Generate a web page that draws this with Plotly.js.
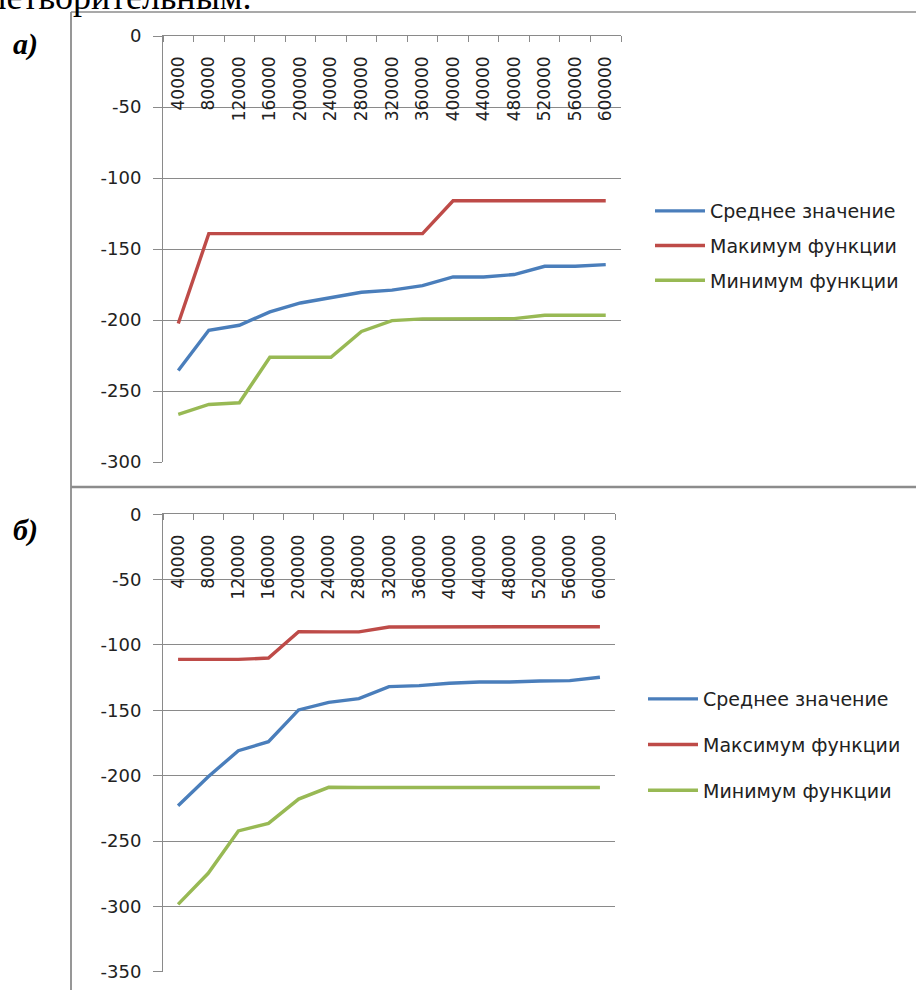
<!DOCTYPE html>
<html>
<head>
<meta charset="utf-8">
<script src="https://cdn.plot.ly/plotly-3.0.1.min.js"></script>
<style>
html, body { margin: 0; padding: 0; background: #ffffff; }
#chart { width: 916px; height: 990px; }
</style>
</head>
<body>
<div id="chart"></div>
<script>
// ---- data ----
const categories = [40000, 80000, 120000, 160000, 200000, 240000, 280000, 320000,
                    360000, 400000, 440000, 480000, 520000, 560000, 600000];
const categoryLabels = ['40000', '80000', '120000', '160000', '200000', '240000', '280000', '320000',
                        '360000', '400000', '440000', '480000', '520000', '560000', '600000'];

const namesA = ['Среднее значение', 'Макимум функции', 'Минимум функции'];
const namesB = ['Среднее значение', 'Максимум функции', 'Минимум функции'];

const meanA = [-235.6, -207.2, -203.7, -194.3, -188.0, -184.0, -180.5, -179.0,
               -175.8, -169.7, -169.7, -168.0, -162.2, -162.2, -161.0];
const maxA  = [-202.5, -139.2, -139.2, -139.2, -139.2, -139.2, -139.2, -139.2,
               -139.2, -116.0, -116.0, -116.0, -116.0, -116.0, -116.0];
const minA  = [-266.5, -259.5, -258.3, -226.2, -226.2, -226.2, -208.1, -200.4,
               -199.2, -199.0, -199.0, -199.0, -196.7, -196.7, -196.7];

const meanB = [-223.0, -200.8, -180.9, -174.0, -149.7, -143.9, -141.1, -131.9,
               -131.1, -129.3, -128.3, -128.3, -127.6, -127.3, -124.7];
const maxB  = [-111.0, -111.0, -111.0, -110.0, -89.8, -90.0, -90.0, -86.2,
               -86.0, -86.0, -86.0, -86.0, -86.0, -86.0, -86.0];
const minB  = [-298.5, -274.7, -242.3, -236.5, -217.9, -208.9, -209.0, -209.0,
               -209.0, -209.0, -209.0, -209.0, -209.0, -209.0, -209.0];

const yTicksA = [0, -50, -100, -150, -200, -250, -300];
const yTickTextA = ['0', '-50', '-100', '-150', '-200', '-250', '-300'];
const yTicksB = [0, -50, -100, -150, -200, -250, -300, -350];
const yTickTextB = ['0', '-50', '-100', '-150', '-200', '-250', '-300', '-350'];

const panelLabels = ['а)', 'б)'];
const clippedText = 'удовлетворительным.';

// ---- styles ----
const colors = ['#4A7EBB', '#BE4B48', '#98B954'];
const W = 916, H = 990;
const px = v => v / W;
const py = v => 1 - v / H;
const gridColor = '#8a8a8a';
const textColor = '#222222';

function mkTraces(seriesList, names, xa, ya, legendId, grpPrefix) {
  return seriesList.map((s, i) => ({
    type: 'scatter', mode: 'lines',
    x: categories, y: s, name: names[i],
    xaxis: xa, yaxis: ya,
    legend: legendId, legendgroup: grpPrefix + i,
    line: { color: colors[i], width: 3.4 },
    hoverinfo: 'skip'
  }));
}
// invisible carrier so that the label-only overlay axes are drawn
function carrier(xa, ya, s) {
  return { type: 'scatter', mode: 'lines', x: categories, y: s, xaxis: xa, yaxis: ya,
           line: { width: 0, color: 'rgba(0,0,0,0)' }, opacity: 0, showlegend: false, hoverinfo: 'skip' };
}

const traces = [
  ...mkTraces([meanA, maxA, minA], namesA, 'x', 'y', 'legend', 'a'),
  ...mkTraces([meanB, maxB, minB], namesB, 'x2', 'y2', 'legend2', 'b'),
  carrier('x3', 'y', meanA),
  carrier('x4', 'y2', meanB)
];

// main x axis: line + boundary tick marks, no labels
function xAxis(domain, anchor) {
  return {
    domain: domain, anchor: anchor, type: 'linear',
    range: [20000, 620000], side: 'top',
    tickmode: 'array', tickvals: categories, ticktext: categoryLabels,
    ticks: '', showticklabels: false,
    showgrid: false, zeroline: false,
    showline: true, linecolor: gridColor, linewidth: 1,
    minor: { ticks: 'inside', tickmode: 'linear', tick0: 20000, dtick: 40000,
             ticklen: 6, tickcolor: gridColor, tickwidth: 1, showgrid: false },
    fixedrange: true
  };
}
// overlaying x axis that carries the rotated category labels just under the top line
function xLabelAxis(overlay, posY) {
  return {
    overlaying: overlay, anchor: 'free', position: posY, side: 'bottom', type: 'linear',
    range: [20000, 620000],
    tickmode: 'array', tickvals: categories, ticktext: categoryLabels,
    ticks: '', tickangle: -90, ticklabelstandoff: 16,
    tickfont: { family: 'DejaVu Sans', size: 17, color: textColor },
    showgrid: false, zeroline: false, showline: false, fixedrange: true
  };
}
function yAxis(domain, anchor, rng, tv, tt) {
  return {
    domain: domain, anchor: anchor, range: rng,
    tickmode: 'array', tickvals: tv, ticktext: tt,
    ticks: 'outside', ticklen: 9, tickcolor: gridColor, tickwidth: 1,
    ticklabelstandoff: 8,
    tickfont: { family: 'DejaVu Sans', size: 18, color: textColor },
    showgrid: true, gridcolor: gridColor, gridwidth: 1,
    showline: true, linecolor: gridColor, linewidth: 1,
    zeroline: false, fixedrange: true
  };
}

const frameColor = '#8c8c8c';
const shapes = [
  { type: 'line', xref: 'paper', yref: 'paper', x0: px(71), x1: 1, y0: py(12), y1: py(12), line: { color: frameColor, width: 1.5 } },
  { type: 'line', xref: 'paper', yref: 'paper', x0: px(71), x1: px(71), y0: py(12), y1: 0, line: { color: frameColor, width: 1.8 } },
  { type: 'line', xref: 'paper', yref: 'paper', x0: px(71), x1: 1, y0: py(487), y1: py(487), line: { color: frameColor, width: 2.5 } }
];

const labelFont = { family: 'Liberation Serif', size: 30, color: '#000', weight: 'bold', style: 'italic' };
const annotations = [
  { xref: 'paper', yref: 'paper', x: px(25), y: py(44), xanchor: 'center', yanchor: 'middle',
    text: panelLabels[0], showarrow: false, font: labelFont },
  { xref: 'paper', yref: 'paper', x: px(25), y: py(530), xanchor: 'center', yanchor: 'middle',
    text: panelLabels[1], showarrow: false, font: labelFont },
  { xref: 'paper', yref: 'paper', x: px(254), y: py(19), xanchor: 'right', yanchor: 'bottom',
    text: clippedText, showarrow: false,
    font: { family: 'Liberation Serif', size: 36, color: '#000' } }
];

const legendBase = {
  xanchor: 'left', yanchor: 'top',
  font: { family: 'DejaVu Sans', size: 19, color: textColor },
  bgcolor: 'rgba(0,0,0,0)', borderwidth: 0,
  itemwidth: 50, traceorder: 'grouped', itemclick: false, itemdoubleclick: false
};

const layout = {
  width: W, height: H,
  margin: { l: 0, r: 0, t: 0, b: 0, pad: 0 },
  paper_bgcolor: '#ffffff', plot_bgcolor: 'rgba(0,0,0,0)',
  showlegend: true,
  xaxis: xAxis([px(163), px(621)], 'y'),
  yaxis: yAxis([py(462), py(36)], 'x', [-300, 0], yTicksA, yTickTextA),
  xaxis3: xLabelAxis('x', py(36)),
  xaxis2: xAxis([px(163), px(615)], 'y2'),
  yaxis2: yAxis([py(971.7), py(514.3)], 'x2', [-350, 0], yTicksB, yTickTextB),
  xaxis4: xLabelAxis('x2', py(514.3)),
  legend: Object.assign({}, legendBase, { x: px(650), y: py(192), tracegroupgap: 7 }),
  legend2: Object.assign({}, legendBase, { x: px(643), y: py(680), tracegroupgap: 18 }),
  shapes: shapes,
  annotations: annotations
};

Plotly.newPlot('chart', traces, layout, { displayModeBar: false, staticPlot: true });
</script>
</body>
</html>
